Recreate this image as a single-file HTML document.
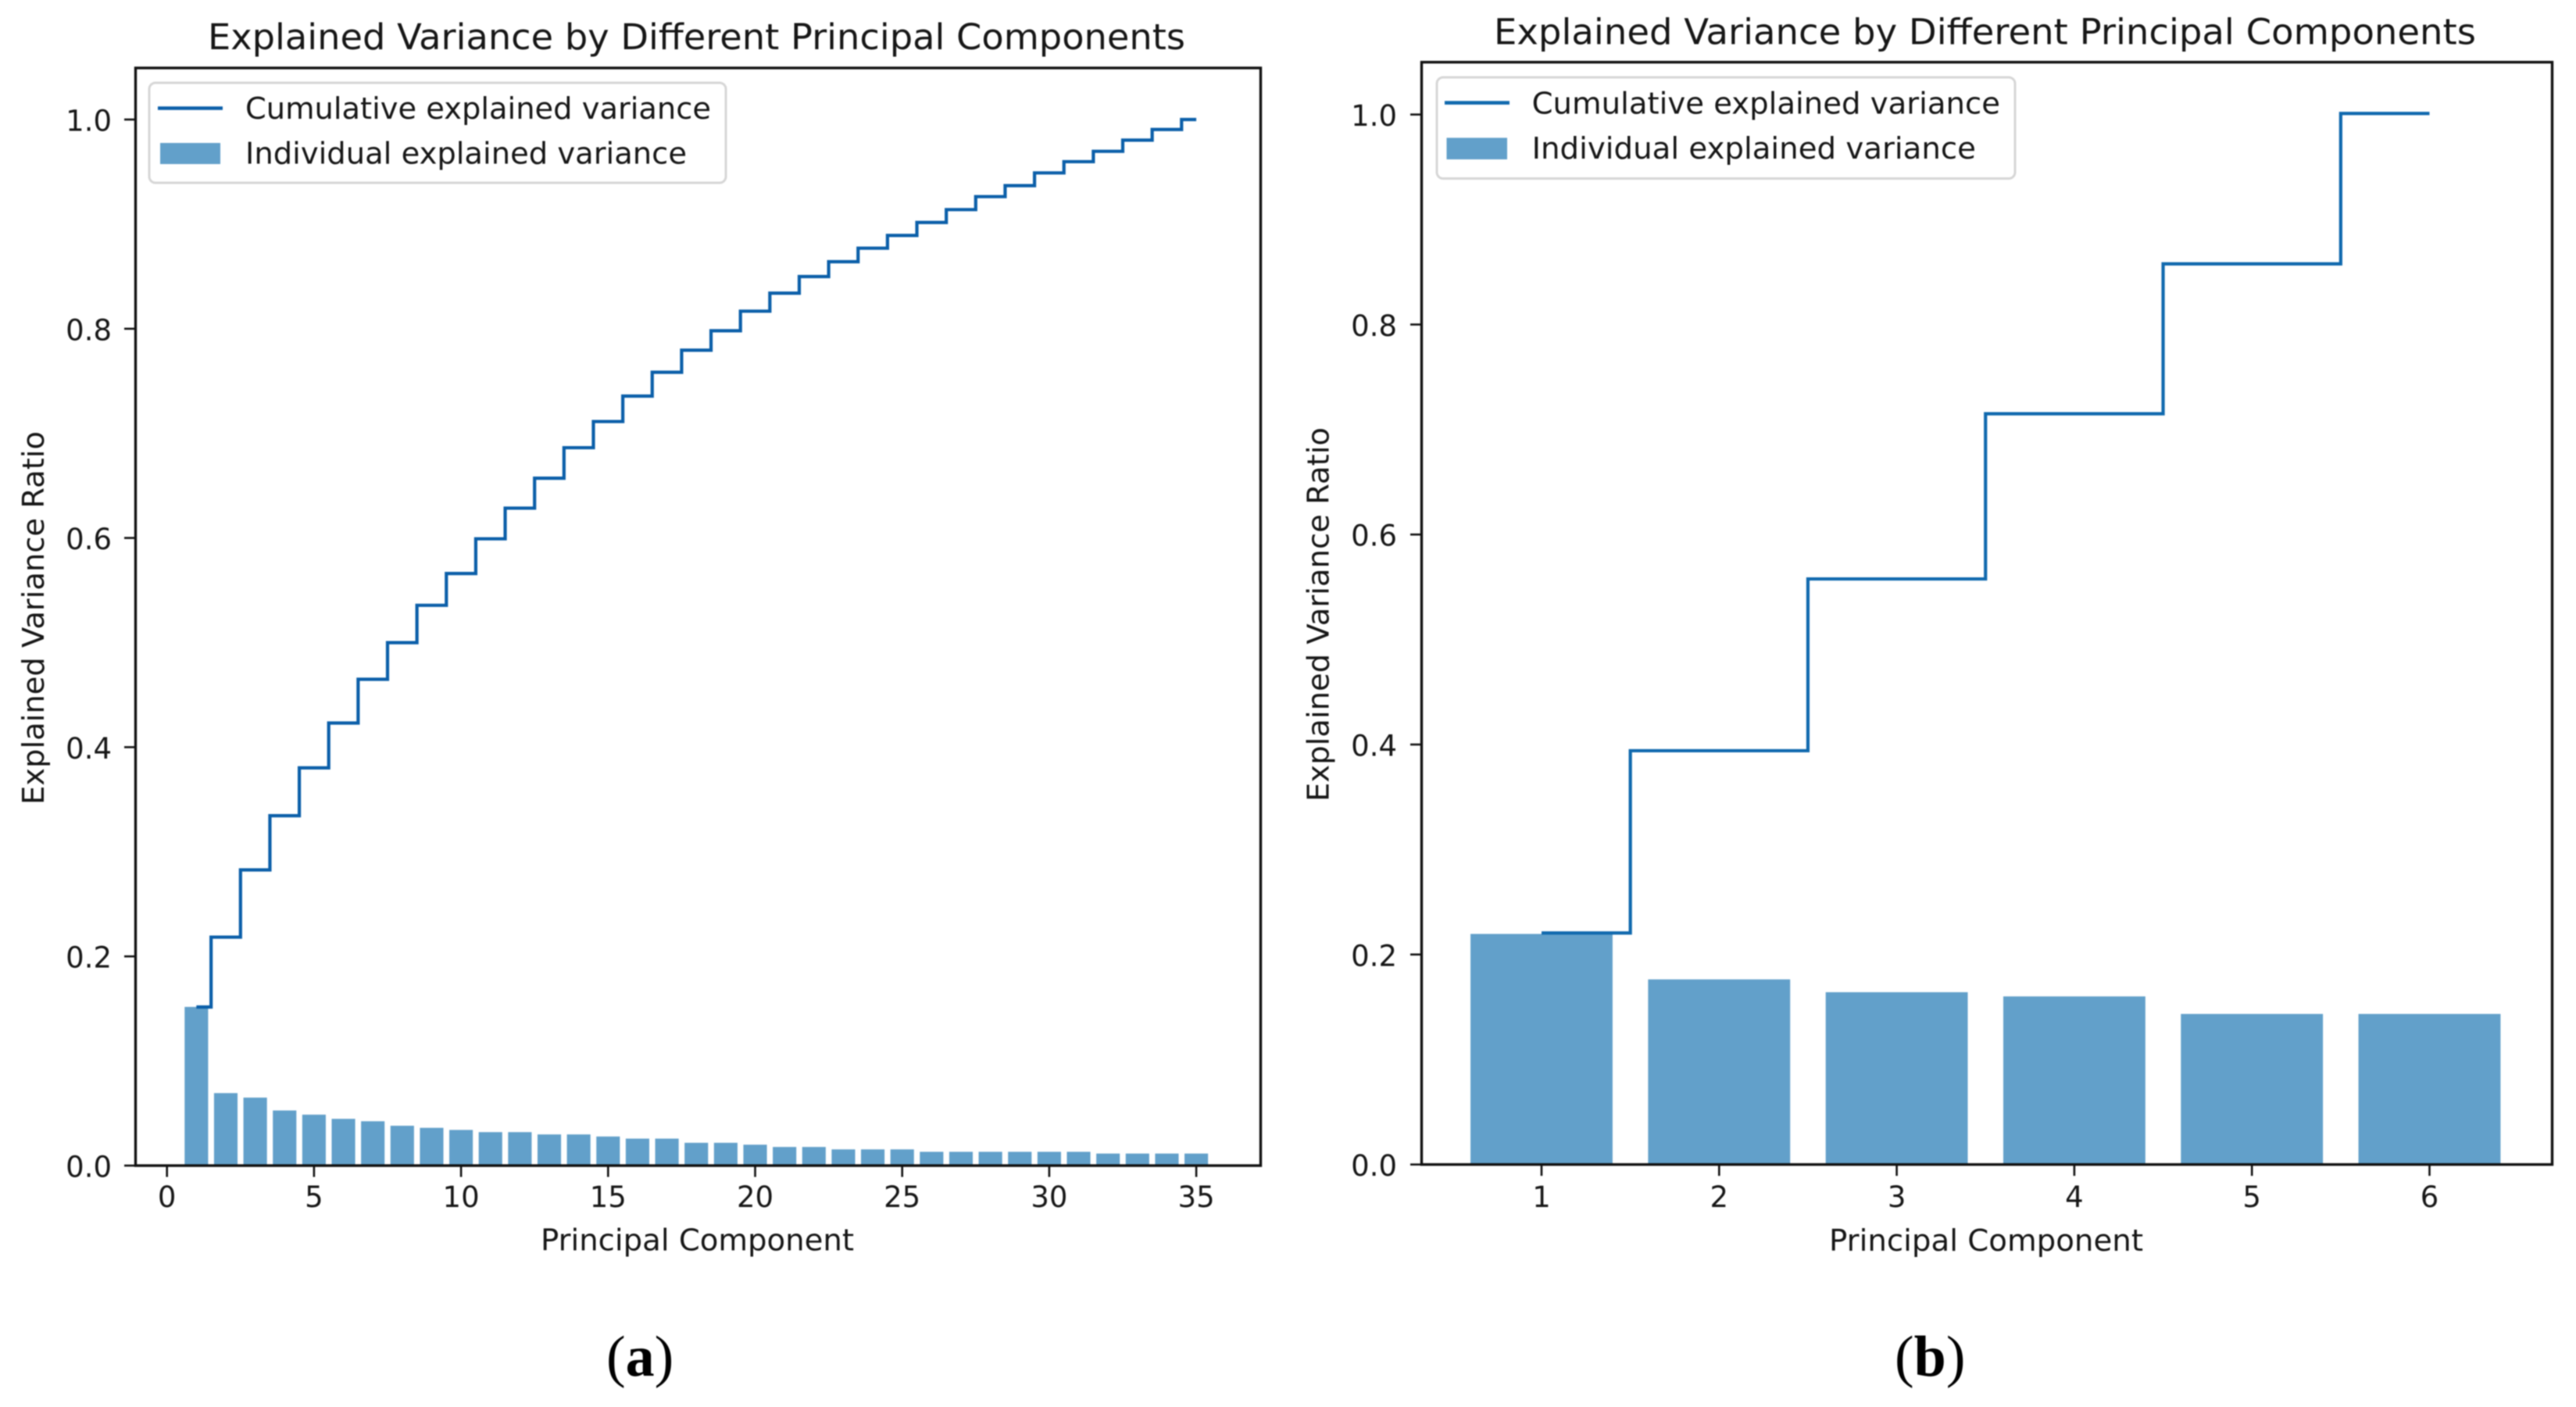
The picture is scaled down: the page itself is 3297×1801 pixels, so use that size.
<!DOCTYPE html>
<html lang="en">
<head>
<meta charset="utf-8">
<title>Explained Variance by Different Principal Components</title>
<style>
html,body{margin:0;padding:0;background:#fff;width:3297px;height:1801px;overflow:hidden}
svg{display:block;filter:blur(0.7px)}
text{font-family:"DejaVu Sans","Liberation Sans",sans-serif;fill:#161616}
.title{font-size:45px}
.lbl{font-size:38px}
.tick{font-size:37px}
.cap{font-family:"Liberation Serif",serif;font-size:74px;fill:#000}
</style>
</head>
<body>
<svg id="fig" xmlns="http://www.w3.org/2000/svg" width="3297" height="1801" viewBox="0 0 3297 1801">
  <rect x="0" y="0" width="3297" height="1801" fill="#fff"/>

  <g id="panel-a">
    <text class="title" x="266" y="63" textLength="1251" lengthAdjust="spacingAndGlyphs">Explained Variance by Different Principal Components</text>
    <g id="a-marks"></g>
    <rect x="173.5" y="87" width="1440" height="1405" fill="none" stroke="#111" stroke-width="3.4"/>
    <g id="a-ticks"></g>
    <text class="lbl" x="692" y="1600.5" textLength="401" lengthAdjust="spacingAndGlyphs">Principal Component</text>
    <text class="lbl" transform="translate(56,1030) rotate(-90)" x="0" y="0" textLength="478" lengthAdjust="spacingAndGlyphs">Explained Variance Ratio</text>
    <g>
      <rect x="191" y="106" width="738" height="128" rx="8" ry="8" fill="#fff" stroke="#d6d6d6" stroke-width="3"/>
      <line x1="202" y1="138.5" x2="285" y2="138.5" stroke="#0b5fa9" stroke-width="4.6"/>
      <rect x="205" y="183" width="77" height="27" fill="#1f77b4" fill-opacity="0.7"/>
      <text class="lbl" x="314" y="152" textLength="596" lengthAdjust="spacingAndGlyphs">Cumulative explained variance</text>
      <text class="lbl" x="314" y="209.7" textLength="565" lengthAdjust="spacingAndGlyphs">Individual explained variance</text>
    </g>
    <text class="cap" x="776" y="1761">(<tspan font-weight="bold">a</tspan>)</text>
  </g>

  <g id="panel-b">
    <text class="title" x="1912" y="56.3" textLength="1257" lengthAdjust="spacingAndGlyphs">Explained Variance by Different Principal Components</text>
    <g id="b-marks"></g>
    <rect x="1819.5" y="79.6" width="1447" height="1411" fill="none" stroke="#111" stroke-width="3.4"/>
    <g id="b-ticks"></g>
    <text class="lbl" x="2341" y="1601" textLength="402" lengthAdjust="spacingAndGlyphs">Principal Component</text>
    <text class="lbl" transform="translate(1700.7,1026) rotate(-90)" x="0" y="0" textLength="479" lengthAdjust="spacingAndGlyphs">Explained Variance Ratio</text>
    <g>
      <rect x="1839" y="99" width="740" height="129.5" rx="8" ry="8" fill="#fff" stroke="#d6d6d6" stroke-width="3"/>
      <line x1="1849" y1="131.6" x2="1932" y2="131.6" stroke="#1069ae" stroke-width="4.6"/>
      <rect x="1851.5" y="176.4" width="77.5" height="27.6" fill="#1f77b4" fill-opacity="0.7"/>
      <text class="lbl" x="1960.6" y="145.4" textLength="599.4" lengthAdjust="spacingAndGlyphs">Cumulative explained variance</text>
      <text class="lbl" x="1960.6" y="203" textLength="568.4" lengthAdjust="spacingAndGlyphs">Individual explained variance</text>
    </g>
    <text class="cap" x="2425" y="1761">(<tspan font-weight="bold">b</tspan>)</text>
  </g>
</svg>

<script>
// Panel (a) data
const componentsA = [1,2,3,4,5,6,7,8,9,10,11,12,13,14,15,16,17,18,19,20,21,22,23,24,25,26,27,28,29,30,31,32,33,34,35];
const individualA = [0.1517,0.0693,0.0650,0.0527,0.0487,0.0447,0.0424,0.0381,0.0361,0.0341,0.0320,0.0320,0.0298,0.0298,0.0278,0.0258,0.0258,0.0218,0.0218,0.0200,0.0178,0.0178,0.0155,0.0155,0.0155,0.0132,0.0132,0.0132,0.0132,0.0132,0.0132,0.0115,0.0115,0.0115,0.0115];
const cumulativeA = [0.1516,0.2184,0.2827,0.3345,0.3802,0.4231,0.4649,0.4999,0.5356,0.5660,0.5992,0.6285,0.6571,0.6863,0.7113,0.7356,0.7584,0.7795,0.7981,0.8168,0.8340,0.8499,0.8641,0.8770,0.8892,0.9016,0.9139,0.9263,0.9368,0.9490,0.9597,0.9696,0.9803,0.9905,1.0000];
const xTicksA = [0,5,10,15,20,25,30,35];
const yTicksA = ["0.0","0.2","0.4","0.6","0.8","1.0"];

// Panel (b) data
const componentsB = [1,2,3,4,5,6];
const individualB = [0.2196,0.1763,0.1641,0.1601,0.1434,0.1434];
const cumulativeB = [0.2205,0.3941,0.5577,0.7150,0.8578,1.0010];
const xTicksB = [1,2,3,4,5,6];
const yTicksB = ["0.0","0.2","0.4","0.6","0.8","1.0"];

const SVG_NS = "http://www.w3.org/2000/svg";

// Axis functions
function xA(v){ return 213.7 + 37.64 * v; }
function yA(v){ return 1492 - 1339 * v; }
function xB(v){ return 1973 + 227.3 * (v - 1); }
function yB(v){ return 1490.6 - 1344 * v; }

function make(tag, parent){
  const el = document.createElementNS(SVG_NS, tag);
  parent.appendChild(el);
  return el;
}

function drawPanel(prefix, marks, ticks, xScale, yScale, components, individual, cumulative, xTicks, yTicks, axisLeft, axisBottom, lineColor, xLabelBaseline, yLabelRight){
  // bars
  individual.forEach(function(value, i){
    const bar = make("rect", marks);
    
    
    const left = xScale(components[i] - 0.4);
    const right = xScale(components[i] + 0.4);
    bar.setAttribute("x", left);
    bar.setAttribute("y", yScale(value));
    bar.setAttribute("width", right - left);
    bar.setAttribute("height", yScale(0) - yScale(value));
    bar.setAttribute("fill", "#1f77b4");
    bar.setAttribute("fill-opacity", "0.7");
  });

  // cumulative step line (step at mid-points)
  let d = "M" + xScale(components[0]) + " " + yScale(cumulative[0]);
  for (let i = 1; i < cumulative.length; i++) {
    const mid = xScale((components[i - 1] + components[i]) / 2);
    d += " L" + mid + " " + yScale(cumulative[i - 1]);
    d += " L" + mid + " " + yScale(cumulative[i]);
  }
  d += " L" + xScale(components[components.length - 1]) + " " + yScale(cumulative[cumulative.length - 1]);
  const line = make("path", marks);
  
  
  line.setAttribute("d", d);
  line.setAttribute("fill", "none");
  line.setAttribute("stroke", lineColor);
  line.setAttribute("stroke-width", "4.2");
  line.setAttribute("stroke-linejoin", "miter");

  // x ticks
  xTicks.forEach(function(value){
    const mark = make("line", ticks);
    
    
    mark.setAttribute("x1", xScale(value));
    mark.setAttribute("x2", xScale(value));
    mark.setAttribute("y1", axisBottom);
    mark.setAttribute("y2", axisBottom + 14.5);
    mark.setAttribute("stroke", "#111");
    mark.setAttribute("stroke-width", "2.6");
    const label = make("text", ticks);
    
    
    label.setAttribute("class", "tick");
    label.setAttribute("x", xScale(value));
    label.setAttribute("y", xLabelBaseline);
    label.setAttribute("text-anchor", "middle");
    label.textContent = String(value);
  });

  // y ticks
  yTicks.forEach(function(text){
    const value = parseFloat(text);
    const mark = make("line", ticks);
    
    
    mark.setAttribute("x1", axisLeft - 14.5);
    mark.setAttribute("x2", axisLeft);
    mark.setAttribute("y1", yScale(value));
    mark.setAttribute("y2", yScale(value));
    mark.setAttribute("stroke", "#111");
    mark.setAttribute("stroke-width", "2.6");
    const label = make("text", ticks);
    
    
    label.setAttribute("class", "tick");
    label.setAttribute("x", yLabelRight);
    label.setAttribute("y", yScale(value) + 14.5);
    label.setAttribute("text-anchor", "end");
    label.textContent = text;
  });
}

drawPanel("panel-a", document.getElementById("a-marks"), document.getElementById("a-ticks"), xA, yA,
  componentsA, individualA, cumulativeA, xTicksA, yTicksA, 173.5, 1492, "#0b5fa9", 1545, 143);
drawPanel("panel-b", document.getElementById("b-marks"), document.getElementById("b-ticks"), xB, yB,
  componentsB, individualB, cumulativeB, xTicksB, yTicksB, 1819.5, 1490.6, "#1069ae", 1545, 1788);
</script>
</body>
</html>
